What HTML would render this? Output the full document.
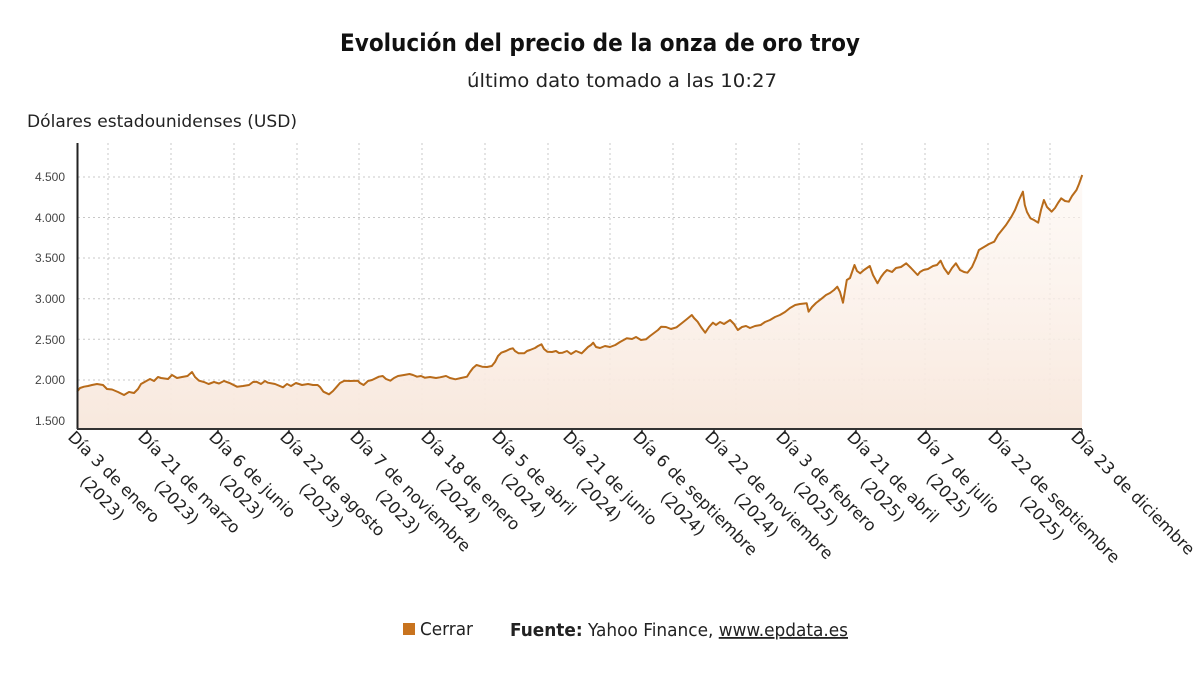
<!DOCTYPE html>
<html><head><meta charset="utf-8"><style>
html,body{margin:0;padding:0;background:#fff;}
svg{display:block;font-family:"DejaVu Sans","Liberation Sans",sans-serif;}
</style></head><body>
<svg width="1200" height="675" viewBox="0 0 1200 675" xmlns="http://www.w3.org/2000/svg">
<defs>
<linearGradient id="g" x1="0" y1="0" x2="0" y2="1">
<stop offset="0" stop-color="#fdf6f1" stop-opacity="0.6"/>
<stop offset="1" stop-color="#f8e8dd"/>
</linearGradient>
</defs>
<text x="600" y="51" text-anchor="middle" font-size="24" font-weight="bold" fill="#111" textLength="520" lengthAdjust="spacingAndGlyphs">Evolución del precio de la onza de oro troy</text>
<text x="622" y="87" text-anchor="middle" font-size="19" fill="#222" textLength="310" lengthAdjust="spacingAndGlyphs">último dato tomado a las 10:27</text>
<text x="27" y="127" font-size="17" fill="#222" textLength="270" lengthAdjust="spacingAndGlyphs">Dólares estadounidenses (USD)</text>
<g stroke="#c8c8c8" stroke-width="1" stroke-dasharray="2,3">
<line x1="78" y1="177" x2="1082" y2="177"/>
<line x1="78" y1="217.5" x2="1082" y2="217.5"/>
<line x1="78" y1="258" x2="1082" y2="258"/>
<line x1="78" y1="298.7" x2="1082" y2="298.7"/>
<line x1="78" y1="339.3" x2="1082" y2="339.3"/>
<line x1="78" y1="380" x2="1082" y2="380"/>
<line x1="78" y1="420.7" x2="1082" y2="420.7"/>
<line x1="108" y1="143" x2="108" y2="428"/>
<line x1="171" y1="143" x2="171" y2="428"/>
<line x1="234" y1="143" x2="234" y2="428"/>
<line x1="297" y1="143" x2="297" y2="428"/>
<line x1="359" y1="143" x2="359" y2="428"/>
<line x1="422" y1="143" x2="422" y2="428"/>
<line x1="485" y1="143" x2="485" y2="428"/>
<line x1="548" y1="143" x2="548" y2="428"/>
<line x1="610" y1="143" x2="610" y2="428"/>
<line x1="673" y1="143" x2="673" y2="428"/>
<line x1="736" y1="143" x2="736" y2="428"/>
<line x1="799" y1="143" x2="799" y2="428"/>
<line x1="862" y1="143" x2="862" y2="428"/>
<line x1="925" y1="143" x2="925" y2="428"/>
<line x1="988" y1="143" x2="988" y2="428"/>
<line x1="1050" y1="143" x2="1050" y2="428"/>
</g>
<g font-size="12" fill="#444" text-anchor="end" font-family="Liberation Sans, sans-serif">
<text x="65" y="181">4.500</text>
<text x="65" y="222">4.000</text>
<text x="65" y="262">3.500</text>
<text x="65" y="303">3.000</text>
<text x="65" y="344">2.500</text>
<text x="65" y="384">2.000</text>
<text x="65" y="425">1.500</text>
</g>
<polygon fill="url(#g)" points="78,429 77,391.7 84,386.7 92,385 103,385 107,389 124,395 134,393 145,381.7 161,378 168,379 187.5,376 199,380.7 208.6,384 229.6,383 237,386.7 249,385 256.4,381.7 268,382.7 283,387.3 291,386 302,385 317.6,385 323.4,391.7 329,394.3 336.8,386.7 344.4,380.7 357.8,380.7 363.6,385 378.9,376.7 382.7,376 390.4,380.7 398,376 409.5,374 417,376.7 424.8,377.7 440,377.3 455.4,379.3 467,376.7 476.5,365 482.2,366.7 491.8,366 501.3,352.7 512.8,348.3 518.6,353.3 524.3,353.3 530,350 541.5,344.3 547.3,351.7 562.6,352.7 581.7,353.3 593.2,342.7 600,348 615.3,345 626.8,338.3 646,339.3 661.2,326.7 676.5,327.3 691.8,315 697.6,321.7 705.2,332.7 712.9,322.7 730.1,320 737.8,330 760.7,325 779.9,315 795.2,305 806.7,303.3 808.6,311.7 822,298.3 837.3,286.7 843,302.7 846.8,280 854.5,265 860.2,273.3 869.8,266 877.5,283.3 887,270 906.2,263.3 917.6,275 923.4,270 940.6,260.7 948.3,274 955.9,263.3 967.4,272.7 978.9,250 994.2,241.7 1011.4,216.7 1022.9,191.7 1024.8,205 1030.5,218.3 1038.2,222.7 1043.9,200 1051.6,211.7 1061.2,198.3 1068.8,201.7 1076.5,190 1082.2,175 1082,429"/>
<polyline fill="none" stroke="#b86b1a" stroke-width="2" stroke-linejoin="round" points="77,391.7 80,388 84,386.7 88,386 92,385 97,384 103,385 107,389 112,389.5 118,392 124,395 129,392 134,393 138,389 141,384 145,381.7 150,379 154,381 158,377 161,378 168,379 172,375 177,378 182,377 187.5,376 192,372 195,377 199,380.7 204,382 208.6,384 214,382 219,383.5 224,381 229.6,383 237,386.7 243,386 249,385 253,382 256.4,381.7 261,384 265,381 268,382.7 275,384 283,387.3 287,384 291,386 296,383 302,385 308,384 313,385 317.6,385 320,387 323.4,391.7 329,394.3 333,391 336.8,386.7 340,383 344.4,380.7 350,381 357.8,380.7 360,383 363.6,385 368,381 372,380 378.9,376.7 382.7,376 386,379 390.4,380.7 394,378 398,376 404,375 409.5,374 413,375 417,376.7 421,376 424.8,377.7 430,377 436,378 440,377.3 446,376 450,378 455.4,379.3 461,378 467,376.7 470,372 473,368 476.5,365 482.2,366.7 487,367 491.8,366 495,362 498,356 501.3,352.7 506,351 510,349 512.8,348.3 515,351 518.6,353.3 524.3,353.3 527,351 530,350 535,348 538,346 541.5,344.3 544,349 547.3,351.7 552,352 556,351 559,353 562.6,352.7 567,351 571,354 576,351 581.7,353.3 585,350 588,347 591,345 593.2,342.7 596,347 600,348 605,346 610,347 615.3,345 620,342 626.8,338.3 632,339 636,337 641,340 646,339.3 650,336 654,333 658,330 661.2,326.7 666,327 671,329 676.5,327.3 682,323 687,319 691.8,315 694,318 697.6,321.7 701,327 705.2,332.7 709,327 712.9,322.7 716,325 720,322 724,324 730.1,320 734,324 737.8,330 742,327 746,326 750,328 755,326 760.7,325 765,322 770,320 775,317 779.9,315 785,312 790,308 795.2,305 800,304 806.7,303.3 808.6,311.7 812,307 816,303 822,298.3 826,295 830,293 834,290 837.3,286.7 840,292 843,302.7 846.8,280 850,278 854.5,265 857,271 860.2,273.3 864,270 869.8,266 873,275 877.5,283.3 881,277 884,273 887,270 892,272 896,268 901,267 906.2,263.3 911,268 917.6,275 920,272 923.4,270 928,269 933,266 937,265 940.6,260.7 944,268 948.3,274 952,268 955.9,263.3 960,270 964,272 967.4,272.7 972,267 976,258 978.9,250 984,247 989,244 994.2,241.7 998,235 1002,230 1006,225 1011.4,216.7 1015,210 1019,200 1022.9,191.7 1024.8,205 1027,212 1030.5,218.3 1034,220 1038.2,222.7 1041,210 1043.9,200 1047,207 1051.6,211.7 1055,208 1058,203 1061.2,198.3 1065,201 1068.8,201.7 1072,196 1076.5,190 1079,184 1082.2,175"/>
<line x1="77.5" y1="143" x2="77.5" y2="429" stroke="#222" stroke-width="2"/>
<line x1="77" y1="429" x2="1082" y2="429" stroke="#333" stroke-width="2"/>
<g stroke="#333" stroke-width="1.5">
<line x1="147" y1="429" x2="147" y2="434"/><line x1="218" y1="429" x2="218" y2="434"/><line x1="289" y1="429" x2="289" y2="434"/><line x1="359" y1="429" x2="359" y2="434"/><line x1="430" y1="429" x2="430" y2="434"/><line x1="501" y1="429" x2="501" y2="434"/><line x1="572" y1="429" x2="572" y2="434"/><line x1="642" y1="429" x2="642" y2="434"/><line x1="714" y1="429" x2="714" y2="434"/><line x1="785" y1="429" x2="785" y2="434"/><line x1="856" y1="429" x2="856" y2="434"/><line x1="926" y1="429" x2="926" y2="434"/><line x1="997" y1="429" x2="997" y2="434"/><line x1="1082" y1="429" x2="1082" y2="434"/>
</g>
<g font-size="16.5" fill="#222">
<text transform="translate(67,438) rotate(45)"><tspan x="0" y="0">Día 3 de enero</tspan><tspan x="40" y="23">(2023)</tspan></text>
<text transform="translate(137,438) rotate(45)"><tspan x="0" y="0">Día 21 de marzo</tspan><tspan x="46" y="23">(2023)</tspan></text>
<text transform="translate(208,438) rotate(45)"><tspan x="0" y="0">Día 6 de junio</tspan><tspan x="38" y="23">(2023)</tspan></text>
<text transform="translate(279,438) rotate(45)"><tspan x="0" y="0">Día 22 de agosto</tspan><tspan x="50" y="23">(2023)</tspan></text>
<text transform="translate(349,438) rotate(45)"><tspan x="0" y="0">Día 7 de noviembre</tspan><tspan x="59" y="23">(2023)</tspan></text>
<text transform="translate(420,438) rotate(45)"><tspan x="0" y="0">Día 18 de enero</tspan><tspan x="44" y="23">(2024)</tspan></text>
<text transform="translate(491,438) rotate(45)"><tspan x="0" y="0">Día 5 de abril</tspan><tspan x="36" y="23">(2024)</tspan></text>
<text transform="translate(562,438) rotate(45)"><tspan x="0" y="0">Día 21 de junio</tspan><tspan x="42" y="23">(2024)</tspan></text>
<text transform="translate(632,438) rotate(45)"><tspan x="0" y="0">Día 6 de septiembre</tspan><tspan x="62" y="23">(2024)</tspan></text>
<text transform="translate(704,438) rotate(45)"><tspan x="0" y="0">Día 22 de noviembre</tspan><tspan x="64" y="23">(2024)</tspan></text>
<text transform="translate(775,438) rotate(45)"><tspan x="0" y="0">Día 3 de febrero</tspan><tspan x="48" y="23">(2025)</tspan></text>
<text transform="translate(846,438) rotate(45)"><tspan x="0" y="0">Día 21 de abril</tspan><tspan x="42" y="23">(2025)</tspan></text>
<text transform="translate(916,438) rotate(45)"><tspan x="0" y="0">Día 7 de julio</tspan><tspan x="36" y="23">(2025)</tspan></text>
<text transform="translate(987,438) rotate(45)"><tspan x="0" y="0">Día 22 de septiembre</tspan><tspan x="68" y="23">(2025)</tspan></text>
<text transform="translate(1070,438) rotate(45)"><tspan x="0" y="0">Día 23 de diciembre</tspan></text>
</g>
<rect x="403" y="623" width="12" height="12" fill="#c8731e"/>
<text x="420" y="635" font-size="18" fill="#222" textLength="53" lengthAdjust="spacingAndGlyphs">Cerrar</text>
<text x="510" y="636" font-size="18" fill="#222" textLength="338" lengthAdjust="spacingAndGlyphs"><tspan font-weight="bold">Fuente:</tspan> Yahoo Finance, <tspan text-decoration="underline">www.epdata.es</tspan></text>
</svg>
</body></html>
